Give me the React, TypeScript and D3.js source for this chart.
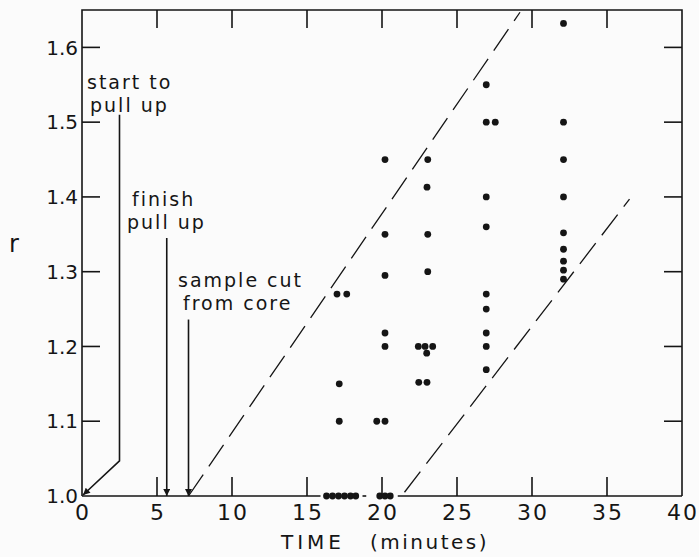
import { useEffect, useRef } from 'react';
import * as d3 from 'd3';

// data: [time (min), r]
const pointsAt17: [number, number][] = [[17.0, 1.27], [17.65, 1.27], [17.15, 1.15], [17.15, 1.10]];
const pointsAt20: [number, number][] = [[20.2, 1.45], [20.2, 1.35], [20.2, 1.295], [20.2, 1.218], [20.2, 1.20], [19.65, 1.10], [20.2, 1.10]];
const pointsAt23: [number, number][] = [
  [23.05, 1.45], [23.0, 1.413], [23.05, 1.35], [23.05, 1.30],
  [22.42, 1.20], [22.87, 1.20], [23.38, 1.20], [22.98, 1.191], [22.45, 1.152], [23.0, 1.152]
];
const pointsAt27: [number, number][] = [
  [26.95, 1.55], [26.95, 1.50], [27.55, 1.50], [26.95, 1.40], [26.95, 1.36],
  [26.95, 1.27], [26.95, 1.25], [26.95, 1.218], [26.95, 1.20], [26.95, 1.169]
];
const pointsAt32: [number, number][] = [
  [32.1, 1.632], [32.1, 1.50], [32.1, 1.45], [32.1, 1.40], [32.1, 1.352],
  [32.1, 1.33], [32.1, 1.314], [32.1, 1.302], [32.1, 1.29]
];
const pointsAtBase: [number, number][] = [
  [16.3, 1.0], [16.7, 1.0], [17.1, 1.0], [17.5, 1.0], [17.9, 1.0], [18.25, 1.0],
  [19.85, 1.0], [20.2, 1.0], [20.55, 1.0]
];

// dashed envelope lines
const upperBound: [number, number][] = [[7.1, 1.0], [29.2, 1.647]];
const lowerBound: [number, number][] = [[21.5, 1.005], [36.5, 1.397]];

// bottom axis is broken where the r = 1.0 points sit
const baseAxisSegments: [number, number][] = [[0, 15.9], [18.7, 18.95], [21.05, 40]];

const xTicks = [0, 5, 10, 15, 20, 25, 30, 35, 40];
const yTicks = [1.0, 1.1, 1.2, 1.3, 1.4, 1.5, 1.6];

// event annotations
const startPullUp = { label: ['start to', 'pull up'], lineX: 2.5, top: 1.51, knee: 1.047, end: 0.0 };
const finishPullUp = { label: ['finish', 'pull up'], time: 5.65, top: 1.345 };
const sampleCut = { label: ['sample cut', 'from core'], time: 7.1, top: 1.236 };

const W = 699;
const H = 557;
const ink = '#151515';
const font = '"DejaVu Sans", sans-serif';

const App = () => {
  const svgRef = useRef<SVGSVGElement>(null);

  useEffect(() => {
    if (!svgRef.current) return;
    const svg = d3.select(svgRef.current);
    svg.selectAll('*').remove();

    const x = d3.scaleLinear().domain([0, 40]).range([82, 682]);
    const y = d3.scaleLinear().domain([1.0, 1.65]).range([496, 10]);

    svg.append('rect').attr('width', W).attr('height', H).attr('fill', '#fbfbfb');

    const defs = svg.append('defs');
    defs.append('marker')
      .attr('id', 'arrow')
      .attr('viewBox', '0 0 10 10')
      .attr('refX', 10)
      .attr('refY', 5)
      .attr('markerWidth', 10)
      .attr('markerHeight', 7)
      .attr('markerUnits', 'userSpaceOnUse')
      .attr('orient', 'auto')
      .append('path')
      .attr('d', 'M0,0 L10,5 L0,10 Z')
      .attr('fill', ink);

    const g = svg.append('g').attr('stroke', ink).attr('stroke-width', 1.6).attr('fill', 'none');

    // frame (left, top, right) + broken bottom
    g.append('path').attr('d', `M${x(0)},${y(1.0)} V${y(1.65)} H${x(40)} V${y(1.0)}`);
    baseAxisSegments.forEach(([a, b]) => {
      g.append('line').attr('x1', x(a)).attr('x2', x(b)).attr('y1', y(1.0)).attr('y2', y(1.0));
    });

    // inward ticks
    const tickLen = 18;
    xTicks.slice(1, -1).forEach(t => {
      g.append('line').attr('x1', x(t)).attr('x2', x(t)).attr('y1', y(1.0)).attr('y2', y(1.0) - tickLen - 1);
      g.append('line').attr('x1', x(t)).attr('x2', x(t)).attr('y1', y(1.65)).attr('y2', y(1.65) + tickLen);
    });
    yTicks.slice(1).forEach(t => {
      g.append('line').attr('x1', x(0)).attr('x2', x(0) + tickLen).attr('y1', y(t)).attr('y2', y(t));
      g.append('line').attr('x1', x(40)).attr('x2', x(40) - tickLen).attr('y1', y(t)).attr('y2', y(t));
    });

    // tick labels
    svg.append('g').selectAll('text')
      .data(xTicks)
      .enter()
      .append('text')
      .attr('x', d => x(d) + 1)
      .attr('y', 520)
      .attr('text-anchor', 'middle')
      .style('font-family', font)
      .style('font-size', '22px')
      .style('letter-spacing', '2px')
      .style('fill', ink)
      .text(d => d3.format('d')(d));

    svg.append('g').selectAll('text')
      .data(yTicks)
      .enter()
      .append('text')
      .attr('x', 78)
      .attr('y', d => y(d))
      .attr('dy', '0.36em')
      .attr('text-anchor', 'end')
      .style('font-family', font)
      .style('font-size', '20px')
      .style('fill', ink)
      .text(d => d3.format('.1f')(d));

    // axis titles
    svg.append('text')
      .attr('x', 281).attr('y', 549)
      .style('font-family', font).style('font-size', '20px').style('letter-spacing', '4px').style('fill', ink)
      .text('TIME');
    svg.append('text')
      .attr('x', 370).attr('y', 549)
      .style('font-family', font).style('font-size', '20px').style('letter-spacing', '2.5px').style('fill', ink)
      .text('(minutes)');
    svg.append('text')
      .attr('x', 9).attr('y', 252)
      .style('font-family', font).style('font-size', '24px').style('fill', ink)
      .text('r');

    // dashed bounds
    const line = d3.line<[number, number]>().x(d => x(d[0])).y(d => y(d[1]));
    [upperBound, lowerBound].forEach(b => {
      g.append('path')
        .attr('d', line(b))
        .attr('stroke-width', 1.3)
        .attr('stroke-dasharray', '26,10');
    });

    // annotation leaders
    g.append('path')
      .attr('d', `M${x(startPullUp.lineX)},${y(startPullUp.top)} V${y(startPullUp.knee)} L${x(startPullUp.end) + 1},${y(1.0) - 1}`)
      .attr('marker-end', 'url(#arrow)');
    [finishPullUp, sampleCut].forEach(a => {
      g.append('line')
        .attr('x1', x(a.time)).attr('x2', x(a.time))
        .attr('y1', y(a.top)).attr('y2', y(1.0))
        .attr('marker-end', 'url(#arrow)');
    });

    const note = (lines: string[], xs: number[], ys: number[]) => {
      lines.forEach((t, i) => {
        svg.append('text')
          .attr('x', xs[i]).attr('y', ys[i])
          .style('font-family', font)
          .style('font-size', '19px')
          .style('letter-spacing', '2px')
          .style('fill', ink)
          .text(t);
      });
    };
    note(startPullUp.label, [87, 90], [89, 112]);
    note(finishPullUp.label, [132, 127], [206, 229]);
    note(sampleCut.label, [178, 183], [287, 310]);

    // data points
    const allPoints = [...pointsAt17, ...pointsAt20, ...pointsAt23, ...pointsAt27, ...pointsAt32, ...pointsAtBase];
    svg.append('g').selectAll('circle')
      .data(allPoints)
      .enter()
      .append('circle')
      .attr('cx', d => x(d[0]))
      .attr('cy', d => y(d[1]))
      .attr('r', 3.4)
      .attr('fill', ink);
  }, []);

  return (
    <svg
      ref={svgRef}
      width={W}
      height={H}
      style={{ position: 'absolute', left: 0, top: 0 }}
    ></svg>
  );
};

export default App;
